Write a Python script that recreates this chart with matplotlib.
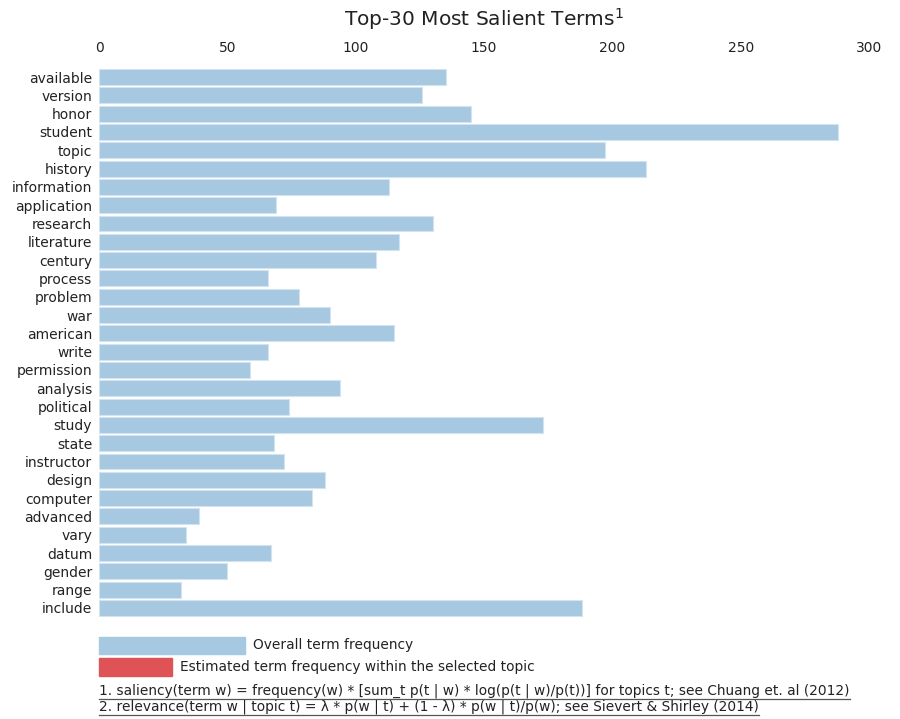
import matplotlib
matplotlib.use("Agg")
import matplotlib.pyplot as plt
from matplotlib.lines import Line2D
from matplotlib.patches import Rectangle

terms = ["available", "version", "honor", "student", "topic", "history", "information",
         "application", "research", "literature", "century", "process", "problem", "war",
         "american", "write", "permission", "analysis", "political", "study", "state",
         "instructor", "design", "computer", "advanced", "vary", "datum", "gender",
         "range", "include"]
overall_freq = [135, 126, 145, 288, 197, 213, 113, 69, 130, 117, 108, 66, 78, 90,
                115, 66, 59, 94, 74, 173, 68, 72, 88, 83, 39, 34, 67, 50, 32, 188]
xticks = [0, 50, 100, 150, 200, 250, 300]

title = "Top-30 Most Salient Terms$^{1}$"
legend_labels = ["Overall term frequency", "Estimated term frequency within the selected topic"]
footnotes = ["1. saliency(term w) = frequency(w) * [sum_t p(t | w) * log(p(t | w)/p(t))] for topics t; see Chuang et. al (2012)",
             "2. relevance(term w | topic t) = \u03bb * p(w | t) + (1 - \u03bb) * p(w | t)/p(w); see Sievert & Shirley (2014)"]

blue = "#a6c8e0"
red = "#df5356"
txt = "#222222"

plt.rcParams['font.family'] = ['DejaVu Sans']
plt.rcParams['mathtext.fontset'] = 'dejavusans'
W, H = 900, 719
fig = plt.figure(figsize=(9, 7.19), dpi=100)

ax_l, ax_r = 99 / W, 869 / W
ax_top, ax_bot = 67.85 / H, 617.15 / H
ax = fig.add_axes([ax_l, 1 - ax_bot, ax_r - ax_l, ax_bot - ax_top])
y = list(range(len(terms)))
ax.barh(y, overall_freq, height=0.87, color=blue, edgecolor="#d3e4f0", linewidth=0.8)
ax.set_ylim(len(terms) - 0.5, -0.5)
ax.set_xlim(0, 300)
ax.set_xticks(xticks)
ax.set_yticks(y)
ax.set_yticklabels(terms)
ax.xaxis.tick_top()
ax.tick_params(axis='x', length=0, pad=9, labelsize=10, labelcolor=txt)
ax.tick_params(axis='y', length=0, pad=5, labelsize=10, labelcolor=txt)
for s in ax.spines.values():
    s.set_visible(False)

fig.text(484 / W, 1 - 19 / H, title, ha='center', va='center', fontsize=14.5, color=txt)

# legend
def px_rect(x0, y0, x1, y1, c):
    fig.patches.append(Rectangle((x0 / W, 1 - y1 / H), (x1 - x0) / W, (y1 - y0) / H,
                                 transform=fig.transFigure, color=c, figure=fig))

px_rect(99, 637, 245, 654, blue)
fig.text(253 / W, 1 - 645.5 / H, legend_labels[0], ha='left', va='center', fontsize=9.9, color=txt)
px_rect(99, 658, 172, 676, red)
fig.text(180 / W, 1 - 666.5 / H, legend_labels[1], ha='left', va='center', fontsize=9.9, color=txt)

# footnotes with underline
fn_texts = []
for i, fn in enumerate(footnotes):
    t = fig.text(99 / W, 1 - (691 + 16 * i) / H, fn, ha='left', va='center', fontsize=9.9, color=txt)
    fn_texts.append(t)

fig.canvas.draw()
r = fig.canvas.get_renderer()
for t in fn_texts:
    bb = t.get_window_extent(renderer=r)
    yy = (bb.y0 - 0.5) / H
    fig.lines.append(Line2D([bb.x0 / W, bb.x1 / W], [yy, yy], transform=fig.transFigure,
                            color="#555555", linewidth=0.9, figure=fig))

fig.savefig("out.png", dpi=100)
